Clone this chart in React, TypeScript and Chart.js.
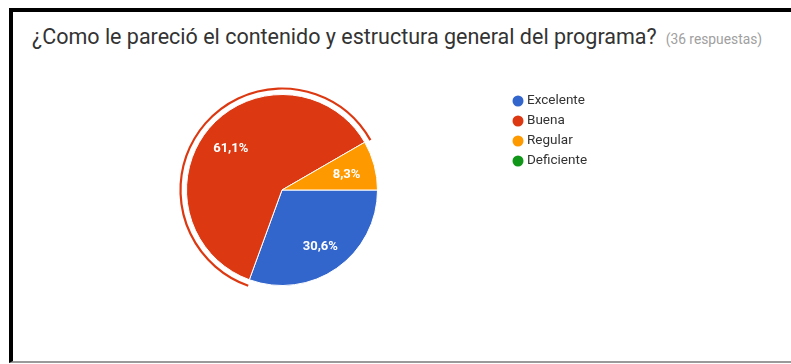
import React, { useEffect, useRef } from "react";
import { Chart, registerables } from "chart.js";

Chart.register(...registerables);

const TITLE = "¿Como le pareció el contenido y estructura general del programa?";
const RESPONSES = "(36 respuestas)";
const categories = ["Excelente", "Buena", "Regular", "Deficiente"];
const counts = [11, 22, 3, 0];
const colors = ["#3366cc", "#dc3912", "#ff9900", "#109618"];
const selectedIndex = 1;

const fmtPct = (v: number, total: number) =>
  ((v / total) * 100).toFixed(1).replace(".", ",") + "%";

const piePlugin = {
  id: "pieExtras",
  afterDatasetsDraw(chart: any) {
    const ctx = chart.ctx;
    const meta = chart.getDatasetMeta(0);
    const data = chart.data.datasets[0].data as number[];
    const total = data.reduce((a, b) => a + b, 0);
    // selection ring
    const sel = meta.data[selectedIndex] as any;
    if (sel) {
      const p = sel.getProps(["x", "y", "startAngle", "endAngle", "outerRadius"], true);
      ctx.save();
      ctx.beginPath();
      ctx.arc(p.x, p.y, p.outerRadius + 6, p.startAngle - 0.01, p.endAngle + 0.01);
      ctx.strokeStyle = colors[selectedIndex];
      ctx.lineWidth = 2.2;
      ctx.stroke();
      ctx.restore();
    }
    // slice labels
    ctx.save();
    ctx.fillStyle = "#ffffff";
    ctx.font = "bold 13px Roboto, Arial, sans-serif";
    ctx.textAlign = "center";
    ctx.textBaseline = "middle";
    meta.data.forEach((el: any, i: number) => {
      if (!data[i]) return;
      const p = el.getProps(["x", "y", "startAngle", "endAngle", "outerRadius"], true);
      const mid = (p.startAngle + p.endAngle) / 2;
      const r = p.outerRadius * 0.7;
      ctx.fillText(fmtPct(data[i], total), p.x + Math.cos(mid) * r, p.y + Math.sin(mid) * r + 2);
    });
    ctx.restore();
    // legend
    ctx.save();
    ctx.font = "13.5px Roboto, Arial, sans-serif";
    ctx.textBaseline = "middle";
    ctx.textAlign = "left";
    categories.forEach((c, i) => {
      const y = 101 + i * 20;
      ctx.beginPath();
      ctx.arc(518, y, 5.5, 0, Math.PI * 2);
      ctx.fillStyle = colors[i];
      ctx.fill();
      ctx.fillStyle = "#333333";
      ctx.fillText(c, 527, y);
    });
    ctx.restore();
  },
};

export default function App() {
  const ref = useRef<HTMLCanvasElement>(null);
  useEffect(() => {
    if (!ref.current) return;
    const chart = new Chart(ref.current, {
      type: "pie",
      data: {
        labels: categories,
        datasets: [
          {
            data: counts,
            backgroundColor: colors,
            borderColor: "#ffffff",
            borderWidth: 1,
          },
        ],
      },
      options: {
        responsive: false,
        animation: false,
        rotation: 90,
        layout: { padding: { left: 186, right: 413, top: 94, bottom: 78 } },
        plugins: {
          legend: { display: false },
          tooltip: { enabled: false },
          title: { display: false },
        },
      },
      plugins: [piePlugin],
    });
    return () => chart.destroy();
  }, []);

  return (
    <div
      style={{
        position: "fixed",
        left: 0,
        top: 0,
        width: 791,
        height: 364,
        overflow: "hidden",
        background: "#ffffff",
      }}
    >
      <div
        style={{
          position: "absolute",
          left: 9,
          top: 8,
          width: 820,
          height: 355,
          boxSizing: "border-box",
          borderTop: "4px solid #000",
          borderLeft: "4px solid #000",
          borderBottom: "2px solid #9a9a9a",
        }}
      />
      <div
        style={{
          position: "absolute",
          left: 32,
          top: 24,
          whiteSpace: "nowrap",
          fontFamily: "Roboto, Arial, sans-serif",
          color: "#333333",
          fontSize: 21.5,
          lineHeight: "26px",
        }}
      >
        {TITLE}
        <span style={{ fontSize: 13.8, color: "#a0a0a0", marginLeft: 9 }}>{RESPONSES}</span>
      </div>
      <canvas
        ref={ref}
        width={791}
        height={364}
        style={{ position: "absolute", left: 0, top: 0, width: 791, height: 364 }}
      />
    </div>
  );
}
